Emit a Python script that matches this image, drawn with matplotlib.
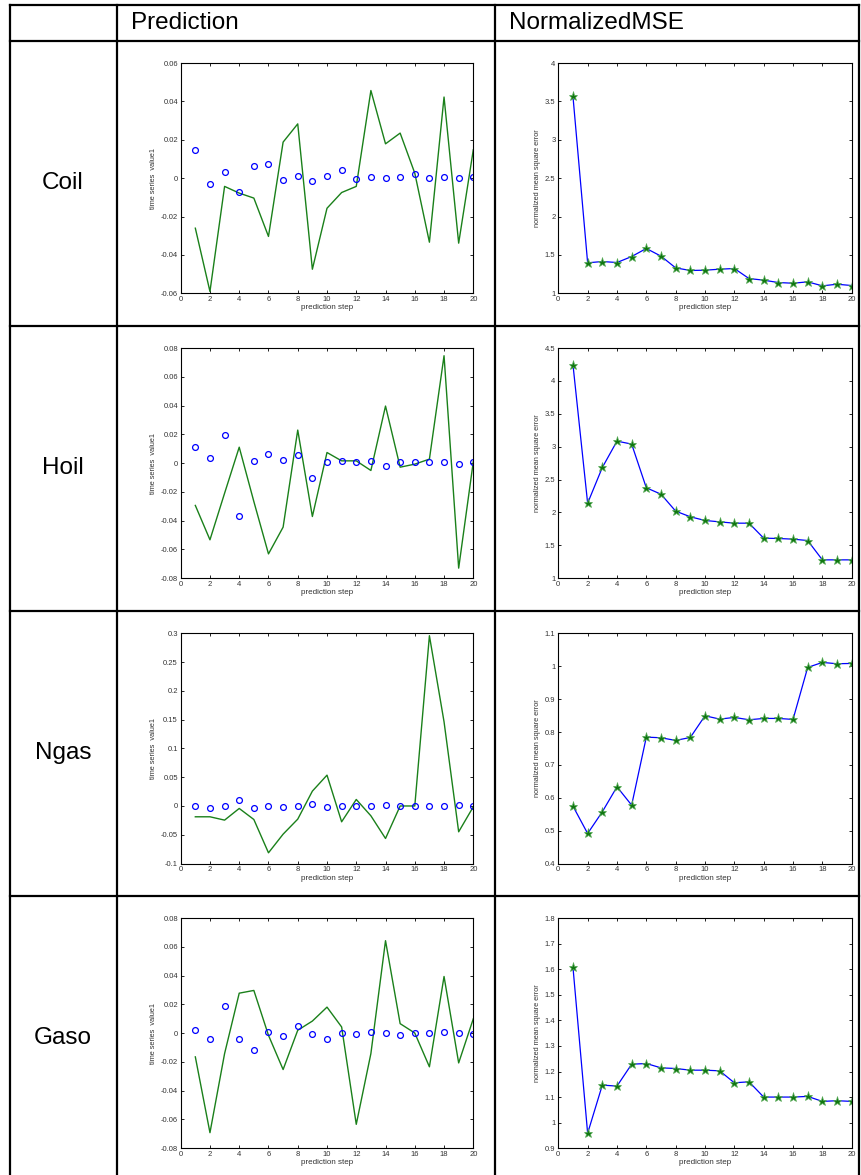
import matplotlib
matplotlib.use("Agg")
import matplotlib.pyplot as plt

plt.rcParams['font.family'] = ['Liberation Sans', 'DejaVu Sans']

steps = list(range(1, 21))
series_names = ["Coil", "Hoil", "Ngas", "Gaso"]

# actual values (green line) and predicted values (blue circles)
coil_actual = [-0.0261, -0.0591, -0.0043, -0.0078, -0.0104, -0.0304, 0.0188, 0.0283, -0.0475, -0.0157,
               -0.0075, -0.0043, 0.0457, 0.0179, 0.0235, 0.0026, -0.0334, 0.0423, -0.0339, 0.0148]
coil_pred = [0.0148, -0.0031, 0.0030, -0.0073, 0.0064, 0.0075, -0.0010, 0.0010, -0.0014, 0.0010,
             0.0045, -0.0002, 0.0005, 0.0002, 0.0005, 0.0024, 0.0002, 0.0005, 0.0002, 0.0005]
hoil_actual = [-0.0294, -0.0533, -0.0209, 0.0111, -0.0267, -0.0631, -0.0445, 0.0230, -0.0371, 0.0074,
               0.0016, 0.0016, -0.0051, 0.0397, -0.0028, -0.0007, 0.0028, 0.0747, -0.0730, 0.0010]
hoil_pred = [0.0114, 0.0039, 0.0197, -0.0366, 0.0014, 0.0063, 0.0019, 0.0058, -0.0102, 0.0007,
             0.0014, 0.0007, 0.0016, -0.0023, 0.0007, 0.0007, 0.0007, 0.0007, -0.0005, 0.0007]
ngas_actual = [-0.0188, -0.0188, -0.0246, -0.0043, -0.0235, -0.0814, -0.0490, -0.0229, 0.0258, 0.0536,
               -0.0275, 0.0113, -0.0171, -0.0565, 0.0, 0.0, 0.2960, 0.1464, -0.0449, -0.0014]
ngas_pred = [0.0, -0.0032, 0.0, 0.0101, -0.0043, 0.0, -0.0010, 0.0, 0.0038, -0.0010,
             0.0, 0.0, 0.0, 0.0014, 0.0, 0.0, 0.0, 0.0, 0.0014, 0.0]
gaso_actual = [-0.0165, -0.0692, -0.0142, 0.0278, 0.0297, -0.0015, -0.0253, 0.0020, 0.0084, 0.0181,
               0.0043, -0.0634, -0.0142, 0.0643, 0.0066, 0.0001, -0.0234, 0.0394, -0.0207, 0.0100]
gaso_pred = [0.0020, -0.0043, 0.0191, -0.0038, -0.0119, 0.0008, -0.0020, 0.0050, -0.0006, -0.0043,
             0.0003, -0.0006, 0.0008, 0.0001, -0.0015, 0.0003, -0.0001, 0.0006, -0.0001, -0.0006]

# normalized mean square error per prediction step
coil_nmse = [3.565, 1.396, 1.413, 1.400, 1.478, 1.583, 1.483, 1.330, 1.296, 1.300,
             1.313, 1.322, 1.191, 1.170, 1.139, 1.130, 1.148, 1.096, 1.117, 1.100]
hoil_nmse = [4.247, 2.141, 2.684, 3.085, 3.040, 2.375, 2.278, 2.020, 1.934, 1.878,
             1.857, 1.837, 1.837, 1.609, 1.604, 1.594, 1.573, 1.279, 1.279, 1.279]
ngas_nmse = [0.5745, 0.4913, 0.5573, 0.6333, 0.5775, 0.7845, 0.7825, 0.7744, 0.7835, 0.8494,
             0.8393, 0.8444, 0.8373, 0.8413, 0.8413, 0.8383, 0.9965, 1.0117, 1.0077, 1.0086]
gaso_nmse = [1.6078, 0.9584, 1.1468, 1.1429, 1.2286, 1.2312, 1.2143, 1.2117, 1.2052, 1.2052,
             1.2026, 1.1558, 1.1597, 1.1000, 1.1000, 1.1000, 1.1026, 1.0831, 1.0857, 1.0831]

actual = [coil_actual, hoil_actual, ngas_actual, gaso_actual]
predicted = [coil_pred, hoil_pred, ngas_pred, gaso_pred]
nmse = [coil_nmse, hoil_nmse, ngas_nmse, gaso_nmse]

pred_ylims = [(-0.06, 0.06), (-0.08, 0.08), (-0.1, 0.3), (-0.08, 0.08)]
pred_yticks = [[-0.06, -0.04, -0.02, 0, 0.02, 0.04, 0.06],
               [-0.08, -0.06, -0.04, -0.02, 0, 0.02, 0.04, 0.06, 0.08],
               [-0.1, -0.05, 0, 0.05, 0.1, 0.15, 0.2, 0.25, 0.3],
               [-0.08, -0.06, -0.04, -0.02, 0, 0.02, 0.04, 0.06, 0.08]]
mse_ylims = [(1, 4), (1, 4.5), (0.4, 1.1), (0.9, 1.8)]
mse_yticks = [[1, 1.5, 2, 2.5, 3, 3.5, 4],
              [1, 1.5, 2, 2.5, 3, 3.5, 4, 4.5],
              [0.4, 0.5, 0.6, 0.7, 0.8, 0.9, 1, 1.1],
              [0.9, 1, 1.1, 1.2, 1.3, 1.4, 1.5, 1.6, 1.7, 1.8]]

W, H = 861, 1175
fig = plt.figure(figsize=(W / 100, H / 100), dpi=100)

# table grid drawn on a full-figure background axes (pixel coordinates)
bg = fig.add_axes([0, 0, 1, 1])
bg.set_xlim(0, W)
bg.set_ylim(H, 0)
bg.axis("off")
row_lines = [5, 40.7, 325.7, 611, 895.7]
col_lines = [9.5, 117, 495, 859]
for y in row_lines:
    bg.plot([col_lines[0], col_lines[-1]], [y, y], color="black", lw=1.6, solid_capstyle="projecting")
for x in col_lines:
    bg.plot([x, x], [row_lines[0], H + 5], color="black", lw=1.6, solid_capstyle="projecting")

bg.text(131, 23, "Prediction", fontsize=17.5, va="center", ha="left")
bg.text(509, 23, "NormalizedMSE", fontsize=17.5, va="center", ha="left")
for i, name in enumerate(series_names):
    top = row_lines[i + 1]
    bg.text(63, top + 142, name, fontsize=17.5, va="center", ha="center")


def px_axes(x0, x1, y0, y1):
    return fig.add_axes([x0 / W, 1 - y1 / H, (x1 - x0) / W, (y1 - y0) / H])


def style_axes(ax, ylabel):
    ax.set_xlim(0, 20)
    ax.set_xticks(range(0, 21, 2))
    ax.tick_params(direction="in", top=True, right=True, length=2.2, width=0.6,
                   labelsize=5.5, labelcolor="#333333", pad=2)
    for sp in ax.spines.values():
        sp.set_linewidth(0.8)
    ax.set_xlabel("prediction step", fontsize=5.8, color="#333333", labelpad=1)
    ax.set_ylabel(ylabel, fontsize=5.3, color="#333333", labelpad=3)


for i in range(4):
    top = row_lines[i + 1]
    y0, y1 = top + 22.4, top + 252.5

    ax = px_axes(180.7, 473.3, y0, y1)
    ax.plot(steps, actual[i], color="#1a801a", lw=1.0)
    ax.plot(steps, predicted[i], "o", mfc="none", mec="#0000ff", ms=4.2, mew=0.9)
    ax.set_ylim(*pred_ylims[i])
    ax.set_yticks(pred_yticks[i])
    ax.set_yticklabels(["%g" % t for t in pred_yticks[i]])
    style_axes(ax, "time series  value1")

    ax2 = px_axes(558.3, 851.7, y0, y1)
    ax2.plot(steps, nmse[i], color="#0000ff", lw=0.9)
    ax2.plot(steps, nmse[i], "*", color="#117711", mec="#55aa55", ms=6.5, mew=0.5)
    ax2.set_ylim(*mse_ylims[i])
    ax2.set_yticks(mse_yticks[i])
    ax2.set_yticklabels(["%g" % t for t in mse_yticks[i]])
    style_axes(ax2, "normalized mean square error")

fig.savefig("out.png", dpi=100)
